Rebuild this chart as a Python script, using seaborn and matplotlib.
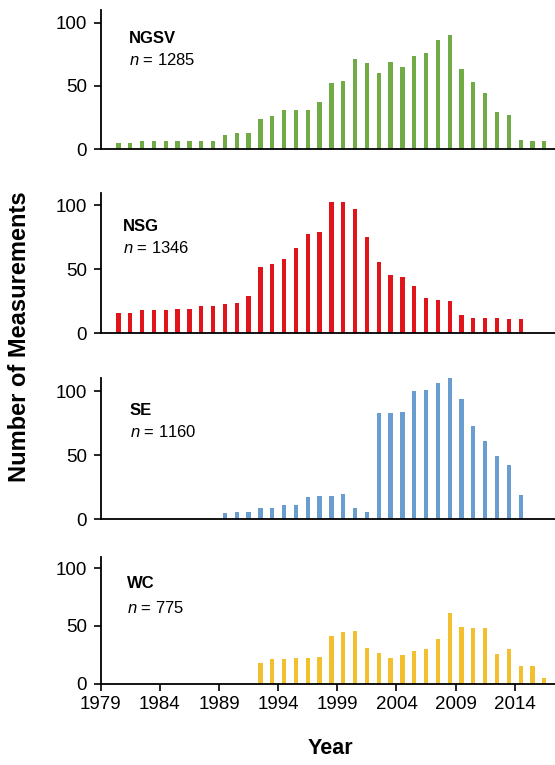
import numpy as np
import pandas as pd
import matplotlib
matplotlib.use("Agg")
import matplotlib.pyplot as plt
import seaborn as sns

# Annual measurement counts per region
ngsv_years = list(range(1980, 2017))
ngsv_counts = [5, 5, 6, 6, 6, 6, 6, 6, 6, 11, 13, 13, 24, 26, 31, 31, 31, 37,
               52, 54, 71, 68, 60, 69, 65, 74, 76, 86, 90, 63, 53, 44, 29, 27,
               7, 6, 6]

nsg_years = list(range(1980, 2015))
nsg_counts = [16, 16, 18, 18, 18, 19, 19, 21, 21, 23, 24, 29, 52, 54, 58, 67,
              78, 79, 103, 103, 97, 75, 56, 46, 44, 37, 28, 26, 25, 14, 12, 12,
              12, 11, 11]

se_years = list(range(1989, 2015))
se_counts = [5, 6, 6, 9, 9, 11, 11, 17, 18, 18, 20, 9, 6, 83, 83, 84, 100,
             101, 106, 111, 94, 73, 61, 49, 42, 19]

wc_years = list(range(1992, 2017))
wc_counts = [18, 21, 21, 22, 22, 23, 41, 45, 46, 31, 27, 22, 25, 28, 30, 39,
             61, 49, 48, 48, 26, 30, 15, 15, 5]

region_names = ["NGSV", "NSG", "SE", "WC"]
region_totals = [1285, 1346, 1160, 775]
region_colors = ["#70AB46", "#E0141B", "#6A9DCF", "#F2BF2E"]

x_ticks = [1979, 1984, 1989, 1994, 1999, 2004, 2009, 2014]

sns.set_style("white")
plt.rcParams["font.family"] = ["Liberation Sans", "DejaVu Sans"]
plt.rcParams["text.color"] = "black"
plt.rcParams["mathtext.fontset"] = "custom"
plt.rcParams["mathtext.it"] = "Liberation Sans:italic"
plt.rcParams["mathtext.rm"] = "Liberation Sans"

fig = plt.figure(figsize=(5.55, 7.65), dpi=100)

# panel rectangles in figure fractions: left, bottom, width, height
panel_rects = [
    (0.1814, 0.8052, 0.8186, 0.1817),
    (0.1814, 0.5643, 0.8186, 0.1838),
    (0.1814, 0.3212, 0.8186, 0.1843),
    (0.1814, 0.1063, 0.8186, 0.1660),
]
label_pos = [
    (0.062, 0.765, 0.604),
    (0.049, 0.727, 0.571),
    (0.064, 0.740, 0.584),
    (0.058, 0.754, 0.557),
]

series = [
    (ngsv_years, ngsv_counts),
    (nsg_years, nsg_counts),
    (se_years, se_counts),
    (wc_years, wc_counts),
]

for i, ((yrs, cnt), name, total, color, rect, lp) in enumerate(
        zip(series, region_names, region_totals, region_colors,
            panel_rects, label_pos)):
    ax = fig.add_axes(rect)
    df = pd.DataFrame({"pos": np.array(yrs) + 0.5, "count": cnt})
    sns.barplot(data=df, x="pos", y="count", native_scale=True, width=0.36,
                color=color, saturation=1, linewidth=0, ax=ax)
    ax.set_xlim(1979, 2017.4)
    ax.set_ylim(0, 110)
    ax.set_yticks([0, 50, 100])
    ax.set_xlabel("")
    ax.set_ylabel("")
    for side in ["top", "right"]:
        ax.spines[side].set_visible(False)
    for side in ["left", "bottom"]:
        ax.spines[side].set_color("black")
        ax.spines[side].set_linewidth(1.3)
    ax.tick_params(axis="y", which="both", left=True, length=5, width=1.2,
                   direction="out", labelsize=13.5, pad=5, colors="black")
    if i == 3:
        ax.set_xticks(x_ticks)
        ax.set_xticklabels([str(t) for t in x_ticks])
        ax.tick_params(axis="x", bottom=True, length=5, width=1.2,
                       direction="out", labelsize=13.5, pad=4, colors="black")
    else:
        ax.set_xticks([])
    ax.text(lp[0], lp[1], name, transform=ax.transAxes, fontsize=12,
            fontweight="bold", ha="left", va="baseline", color="black")
    ax.text(lp[0], lp[2], f"$n$ = {total}", transform=ax.transAxes,
            fontsize=12, ha="left", va="baseline", color="black")

fig.text(0.036, 0.56, "Number of Measurements", rotation=90, fontsize=17,
         fontweight="bold", ha="center", va="center", color="black")
fig.text(0.595, 0.022, "Year", fontsize=15.5, fontweight="bold",
         ha="center", va="center", color="black")

fig.savefig("out.png", dpi=100)
